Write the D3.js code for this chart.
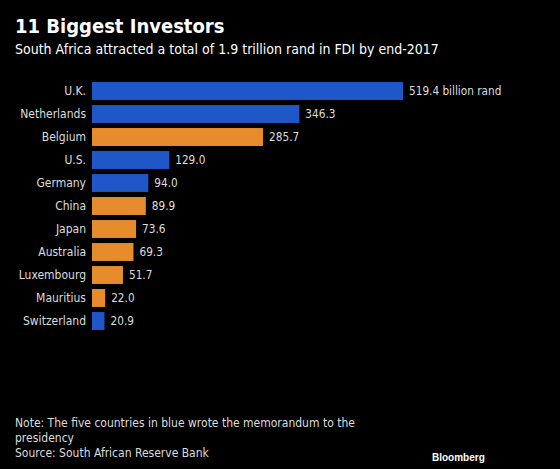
<!DOCTYPE html>
<html><head><meta charset="utf-8">
<script src="https://cdn.jsdelivr.net/npm/d3@7"></script>
<style>body{margin:0;background:#000;}svg{display:block;}</style>
</head><body><svg id="c" width="560" height="469"></svg>
<script>
const countries = ["U.K.","Netherlands","Belgium","U.S.","Germany","China","Japan","Australia","Luxembourg","Mauritius","Switzerland"];
const values = [519.4,346.3,285.7,129.0,94.0,89.9,73.6,69.3,51.7,22.0,20.9];
const signed = [true,true,false,true,true,false,false,false,false,false,true];
const valueLabels = ["519.4 billion rand","346.3","285.7","129.0","94.0","89.9","73.6","69.3","51.7","22.0","20.9"];

const svg = d3.select("#c");
svg.append("rect").attr("width",560).attr("height",469).attr("fill","#000");
const font = "'DejaVu Sans Condensed','DejaVu Sans',sans-serif";

svg.append("text").attr("x",15).attr("y",33).attr("fill","#fff").attr("font-family",font)
  .attr("font-weight","bold").attr("font-size",20).text("11 Biggest Investors");
svg.append("text").attr("x",15).attr("y",54).attr("fill","#fff").attr("font-family",font)
  .attr("font-size",14).text("South Africa attracted a total of 1.9 trillion rand in FDI by end-2017");

const x = d3.scaleLinear().domain([0,519.4]).range([92,403]);
const y = d3.scaleBand().domain(countries).range([79.5,332.5]).paddingInner(0.22).paddingOuter(0.11);

const g = svg.append("g");
g.selectAll("rect.bar").data(countries).join("rect").attr("class","bar")
  .attr("x",x(0)).attr("y",d=>y(d)).attr("height",y.bandwidth())
  .attr("width",(d,i)=>x(values[i])-x(0))
  .attr("fill",(d,i)=>signed[i]?"#1f56c8":"#e68c2c");
g.selectAll("text.cat").data(countries).join("text").attr("class","cat")
  .attr("x",86).attr("y",d=>y(d)+y.bandwidth()/2).attr("dy","0.35em")
  .attr("text-anchor","end").attr("fill","#ddd").attr("font-family",font).attr("font-size",12).text(d=>d);
g.selectAll("text.val").data(countries).join("text").attr("class","val")
  .attr("x",(d,i)=>x(values[i])+6).attr("y",d=>y(d)+y.bandwidth()/2).attr("dy","0.35em")
  .attr("fill","#ddd").attr("font-family",font).attr("font-size",11.7).text((d,i)=>valueLabels[i]);

const notes = ["Note: The five countries in blue wrote the memorandum to the","presidency","Source: South African Reserve Bank"];
svg.selectAll("text.note").data(notes).join("text").attr("class","note")
  .attr("x",15).attr("y",(d,i)=>427+i*15).attr("fill","#ddd").attr("font-family",font).attr("font-size",12).text(d=>d);
svg.append("text").attr("x",432).attr("y",461).attr("fill","#fff").attr("font-family","'Liberation Sans',Arial,sans-serif")
  .attr("font-weight","bold").attr("font-size",10).text("Bloomberg");
</script></body></html>
